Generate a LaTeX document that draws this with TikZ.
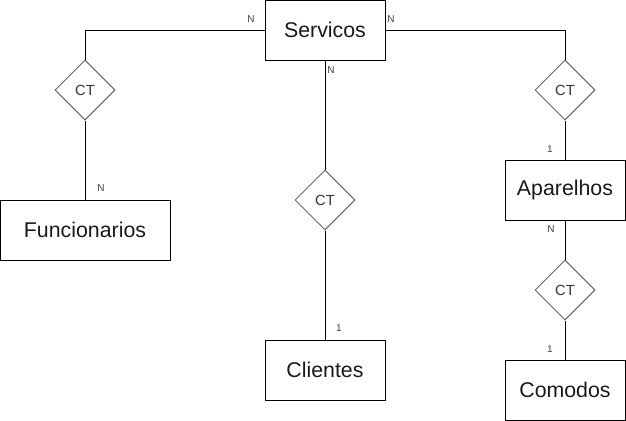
\documentclass[tikz,border=0pt]{standalone}
\usepackage{fontspec}
\setmainfont{Liberation Sans}
\usetikzlibrary{shapes.geometric}
\begin{document}
\begin{tikzpicture}[x=0.75pt,y=-0.75pt,
  entity/.style={draw=black,line width=0.75pt,minimum width=90pt,minimum height=45pt,inner sep=0pt,font=\fontsize{16}{18}\selectfont,text=black!90},
  rel/.style={diamond,draw=black!60,line width=0.75pt,minimum width=45pt,minimum height=45pt,inner sep=0pt,font=\fontsize{11}{13}\selectfont,text=black!80},
  card/.style={font=\fontsize{7.5}{9}\selectfont,text=black!75,inner sep=0pt},
  conn/.style={draw=black,line width=0.75pt}]
\useasboundingbox (0,0) rectangle (626,421);
\node[entity,minimum width=90pt] (s) at (325,30) {Servicos};
\node[entity,minimum width=127.5pt] (f) at (85,230) {Funcionarios};
\node[entity] (c) at (325,370) {Clientes};
\node[entity] (a) at (565,190) {Aparelhos};
\node[entity] (m) at (565,390) {Comodos};
\node[rel] (d1) at (85,90) {CT};
\node[rel] (d2) at (325,200) {CT};
\node[rel] (d3) at (565,90) {CT};
\node[rel] (d4) at (565,290) {CT};
\draw[conn] (s.west) -| (d1.north);
\draw[conn] (d1.south) -- (f.north);
\draw[conn] (s.south) -- (d2.north);
\draw[conn] (d2.south) -- (c.north);
\draw[conn] (s.east) -| (d3.north);
\draw[conn] (d3.south) -- (a.north);
\draw[conn] (a.south) -- (d4.north);
\draw[conn] (d4.south) -- (m.north);
\node[card] (l1) at (251,19) {N};
\node[card] (l2) at (391,19) {N};
\node[card] (l3) at (331,70) {N};
\node[card] (l4) at (101,188) {N};
\node[card] (l5) at (339,328) {1};
\node[card] (l6) at (550,149) {1};
\node[card] (l7) at (551,229) {N};
\node[card] (l8) at (550,349) {1};
\end{tikzpicture}
\end{document}
